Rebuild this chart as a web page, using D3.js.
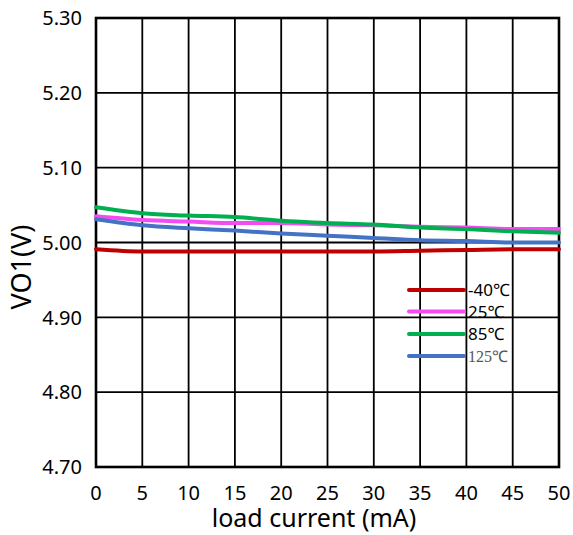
<!DOCTYPE html>
<html><head><meta charset="utf-8">
<script src="https://cdn.jsdelivr.net/npm/d3@7/dist/d3.min.js"></script>
<style>body{margin:0;background:#fff}svg{display:block}</style>
</head><body>
<svg id="c" width="573" height="535"></svg>
<script>
const xValues = [0,5,10,15,20,25,30,35,40,45,50];
const seriesNames = ["-40℃","25℃","85℃","125℃"];
const seriesColors = ["#C00000","#F24CF2","#00B050","#4472C4"];
const vMinus40 = [4.991,4.988,4.988,4.988,4.988,4.988,4.988,4.989,4.990,4.991,4.991];
const v25 = [5.035,5.030,5.028,5.026,5.026,5.024,5.023,5.021,5.020,5.018,5.018];
const v85 = [5.047,5.039,5.036,5.034,5.029,5.026,5.024,5.020,5.018,5.015,5.013];
const v125 = [5.031,5.023,5.019,5.016,5.012,5.009,5.006,5.003,5.002,5.000,5.000];
const xTicks = [0,5,10,15,20,25,30,35,40,45,50];
const yTicks = [4.70,4.80,4.90,5.00,5.10,5.20,5.30];
const xTitle = "load current (mA)";
const yTitle = "VO1(V)";

const svg = d3.select("#c");
const L=96, R=559, T=18, B=467;
const x = d3.scaleLinear().domain([0,50]).range([L,R]);
const y = d3.scaleLinear().domain([4.70,5.30]).range([B,T]);
const font = "'Noto Sans', 'Open Sans', sans-serif";

// grid
svg.append("g").selectAll("line").data(xTicks).join("line")
  .attr("x1",d=>x(d)).attr("x2",d=>x(d)).attr("y1",T).attr("y2",B)
  .attr("stroke","#000").attr("stroke-width",1.8);
svg.append("g").selectAll("line").data(yTicks).join("line")
  .attr("x1",L).attr("x2",R).attr("y1",d=>y(d)).attr("y2",d=>y(d))
  .attr("stroke","#000").attr("stroke-width",1.8);
svg.append("rect").attr("x",L).attr("y",T).attr("width",R-L).attr("height",B-T)
  .attr("fill","none").attr("stroke","#000").attr("stroke-width",2.6);

// tick labels
svg.append("g").selectAll("text").data(yTicks).join("text")
  .attr("x",82).attr("y",d=>y(d)).attr("dy","0.36em").attr("text-anchor","end")
  .attr("font-family",font).attr("font-size",20).attr("fill","#000")
  .text(d=>d3.format(".2f")(d));
svg.append("g").selectAll("text").data(xTicks).join("text")
  .attr("x",d=>x(d)).attr("y",493).attr("dy","0.36em").attr("text-anchor","middle")
  .attr("font-family",font).attr("font-size",20).attr("fill","#000")
  .text(d=>d);

// titles
svg.append("text").attr("x",314).attr("y",527).attr("text-anchor","middle")
  .attr("font-family",font).attr("font-size",25).attr("fill","#000").text(xTitle);
svg.append("text").attr("transform","translate(31,267) rotate(-90)").attr("text-anchor","middle")
  .attr("font-family",font).attr("font-size",27).attr("fill","#000").text(yTitle);

// series
const allSeries = [vMinus40, v25, v85, v125];
const line = d3.line().x((d,i)=>x(xValues[i])).y(d=>y(d)).curve(d3.curveMonotoneX);
[0,1,2,3].forEach(k=>{
  svg.append("path").datum(allSeries[k]).attr("d",line)
    .attr("fill","none").attr("stroke",seriesColors[k]).attr("stroke-width",4)
    .attr("stroke-linecap","round");
});

// legend
const legY = [290,311.5,334,356];
seriesNames.forEach((n,i)=>{
  svg.append("line").attr("x1",409).attr("x2",464).attr("y1",legY[i]).attr("y2",legY[i])
    .attr("stroke",seriesColors[i]).attr("stroke-width",4).attr("stroke-linecap","round");
  svg.append("text").attr("x",468).attr("y",legY[i]).attr("dy","0.36em")
    .attr("font-family", i===3 ? "'Liberation Serif', serif" : font)
    .attr("font-size",i===3 ? 16 : 17).attr("fill", i===3 ? "#555" : "#000").text(n);
});
</script>
</body></html>
